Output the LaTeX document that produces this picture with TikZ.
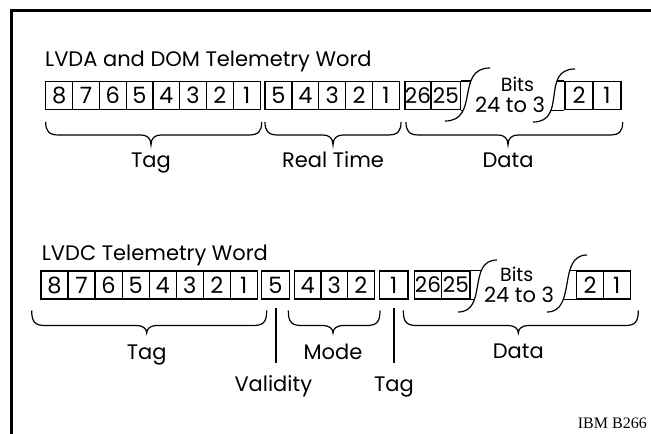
\documentclass[tikz,border=0pt]{standalone}
\usepackage{fontspec}
\setmainfont{Poppins}
\newfontfamily\ibmfont{Liberation Serif}
\newcommand\mybrace[6]{% x1, x2, xtip, ytop, ybar, ytip
  \draw[brc] (#1,#4) .. controls (#1,#5-4) and (#1+3,#5) .. (#1+13,#5)
    -- (#3-10,#5) .. controls (#3-4,#5) and (#3,#5+3) .. (#3,#6)
    .. controls (#3,#5+3) and (#3+4,#5) .. (#3+10,#5)
    -- (#2-13,#5) .. controls (#2-3,#5) and (#2,#5-4) .. (#2,#4);}
\begin{document}
\begin{tikzpicture}[x=1pt,y=-1pt,
  cell/.style={draw, line width=1.2pt, minimum height=28pt, inner sep=0pt, font=\fontsize{22.5}{22.5}\selectfont},
  cell2/.style={cell, font=\fontsize{21.5}{21.5}\selectfont},
  lbl/.style={font=\fontsize{21}{21}\selectfont, anchor=base, inner sep=0pt},
  small/.style={font=\fontsize{19}{19}\selectfont, anchor=base, inner sep=0pt},
  ttl/.style={font=\fontsize{21}{21}\selectfont, anchor=base west, inner sep=0pt},
  brc/.style={line width=1.2pt},
  cut/.style={line width=1.2pt},
  ]
\useasboundingbox (0,0) rectangle (651,434);
\draw[line width=2.4pt] (651,10.5) -- (11.3,10.5) -- (11.3,434);

% ---------- Row 1 ----------
\node[ttl] (title1) at (45,66.7) {LVDA and DOM Telemetry Word};
\foreach \d [count=\i] in {8,7,6,5,4,3,2,1}
  \node[cell, minimum width=26.8pt] (a\i) at ({45.7+26.8*(\i-0.5)},95.5) {\d};
\foreach \d [count=\i] in {5,4,3,2,1}
  \node[cell, minimum width=26.9pt] (b\i) at ({265+26.9*(\i-0.5)},95.5) {\d};
\node[cell2, minimum width=26pt] (c26) at (418,95.5) {26};
\node[cell2, minimum width=29.7pt] (c25) at (445.85,95.5) {25};
\node[cell, minimum width=28pt] (c2) at (579,95.5) {2};
\node[cell, minimum width=28pt] (c1) at (607,95.5) {1};
\begin{scope}
  \clip (430,130) -- (445,121) .. controls (480,121) and (455,68) .. (490,68) -- (490,60) -- (430,60) -- cycle;
  \draw[cut] (c25.north east) -- ++(40,0);
  \draw[cut] (c25.south east) -- ++(40,0);
\end{scope}
\draw[cut] (445,121) .. controls (480,121) and (455,68) .. (490,68);
\begin{scope}
  \clip (520,130) -- (533,122) .. controls (568,122) and (540,69) .. (575,69) -- (575,60) -- (600,60) -- (600,130) -- cycle;
  \draw[cut] (c2.north west) -- ++(-40,0);
  \draw[cut] (c2.south west) -- ++(-40,0);
\end{scope}
\draw[cut] (533,122) .. controls (568,122) and (540,69) .. (575,69);
\node[small] (bits1) at (517.5,91) {Bits};
\node[lbl] (range1) at (510,112) {24 to 3};

\mybrace{45.7}{261.7}{151}{122}{135}{145}
\mybrace{265}{401}{333}{122}{135}{145}
\mybrace{406}{622.7}{508}{122}{135}{145}
\node[lbl] (tag1) at (151,167) {Tag};
\node[lbl] (rt1) at (333,167) {Real Time};
\node[lbl] (data1) at (508,167) {Data};

% ---------- Row 2 ----------
\node[ttl] (title2) at (41.7,260) {LVDC Telemetry Word};
\foreach \d [count=\i] in {8,7,6,5,4,3,2,1}
  \node[cell, minimum width=27.04pt] (d\i) at ({41+27.04*(\i-0.5)},285) {\d};
\node[cell, minimum width=27.6pt] (val) at (275.5,285) {5};
\foreach \d [count=\i] in {4,3,2}
  \node[cell, minimum width=26.6pt] (m\i) at ({294.3+26.6*(\i-0.5)},285) {\d};
\node[cell, minimum width=28.7pt] (tg) at (393.65,285) {1};
\node[cell2, minimum width=27.4pt] (e26) at (428,285) {26};
\node[cell2, minimum width=28.3pt] (e25) at (455.85,285) {25};
\node[cell, minimum width=26.6pt] (e2) at (590,285) {2};
\node[cell, minimum width=27pt] (e1) at (616.8,285) {1};
\begin{scope}
  \clip (440,320) -- (458,312) .. controls (488,312) and (467,260) .. (497,260) -- (497,250) -- (440,250) -- cycle;
  \draw[cut] (e25.north east) -- ++(40,0);
  \draw[cut] (e25.south east) -- ++(40,0);
\end{scope}
\draw[cut] (458,312) .. controls (488,312) and (467,260) .. (497,260);
\begin{scope}
  \clip (530,320) -- (547,312) .. controls (577,312) and (557,255) .. (587,255) -- (587,245) -- (610,245) -- (610,320) -- cycle;
  \draw[cut] (e2.north west) -- ++(-40,0);
  \draw[cut] (e2.south west) -- ++(-40,0);
\end{scope}
\draw[cut] (547,312) .. controls (577,312) and (557,255) .. (587,255);
\node[small] (bits2) at (516.7,281) {Bits};
\node[lbl] (range2) at (519,302.3) {24 to 3};

\mybrace{31.7}{266.7}{146.7}{310.5}{325.5}{333}
\mybrace{288.3}{380}{333}{310.5}{325.5}{333}
\mybrace{403.3}{638.3}{518.3}{310.5}{325.5}{333}
\node[lbl] (tag2) at (146.7,359) {Tag};
\node[lbl] (mode) at (333,359) {Mode};
\node[lbl] (data2) at (518.3,358) {Data};

\coordinate (v1) at (276,308);
\coordinate (v2) at (276,363);
\coordinate (t1) at (394,308);
\coordinate (t2) at (394,363);
\draw[brc] (v1) -- (v2);
\draw[brc] (t1) -- (t2);
\node[lbl] (valid) at (273.3,391) {Validity};
\node[lbl] (tag3) at (394,391) {Tag};

\node[anchor=base east, inner sep=0pt, font=\ibmfont\fontsize{16}{16}\selectfont] (ibm) at (647,428) {IBM B266};
\end{tikzpicture}
\end{document}
